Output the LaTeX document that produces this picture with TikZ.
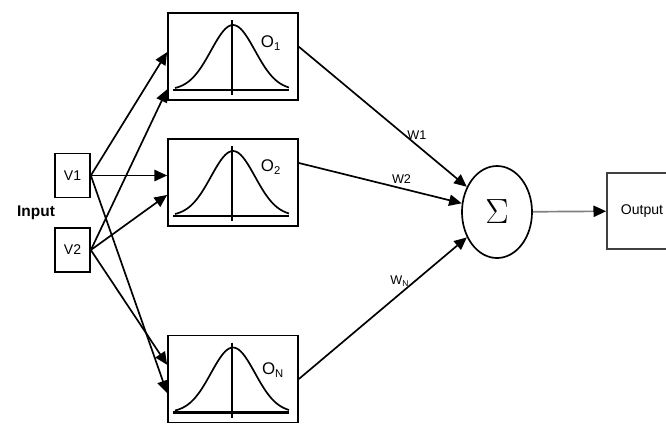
\documentclass[tikz,border=0pt]{standalone}
\usepackage{fontspec}
\setmainfont{Liberation Sans}
\usetikzlibrary{arrows.meta, shapes.geometric, calc, positioning}

\begin{document}
\begin{tikzpicture}[x=0.025cm, y=-0.025cm, line width=1.2pt,
  >={Triangle[length=9pt,width=8pt]},
  unit/.style={draw, minimum width=3.25cm, minimum height=2.175cm, inner sep=0pt},
  inbox/.style={draw, minimum width=0.875cm, minimum height=1.1cm, inner sep=0pt, font=\fontsize{10}{12}\selectfont},
  olabel/.style={font=\fontsize{12}{14}\selectfont, inner sep=0pt},
  wlabel/.style={font=\fontsize{9}{11}\selectfont, inner sep=1pt}]

\useasboundingbox (0,0) rectangle (666,424);

% Inputs
\node[inbox] (v1) at (72.5,175.5) {V1};
\node[inbox] (v2) at (72.5,250) {V2};
\node[font=\fontsize{11}{13}\selectfont\bfseries] (inp) at (36,213) {Input};

% Hidden units
\node[unit] (b1) at (233,56.5) {};
\node[unit] (b2) at (233,182.5) {};
\node[unit] (bn) at (233,379) {};

% Gaussian inside each unit
\foreach \b in {b1,b2,bn}{
  \begin{scope}[shift={(\b.center)}]
    \draw[line width=1.6pt] (-60,33.5) -- (56,33.5);
    \draw (-1,-36.5) -- (-1,38.5);
    \draw[domain=-58:56, samples=60, smooth] plot (\x,{33.5-65*exp(-((\x)*(\x))/968)});
  \end{scope}
}

% Unit outputs
\node[olabel] (o1) at (271,43) {O\textsubscript{1}};
\node[olabel] (o2) at (271,167) {O\textsubscript{2}};
\node[olabel] (on) at (273,370) {O\textsubscript{N}};

% Summation
\node[draw, ellipse, minimum width=1.75cm, minimum height=2.3cm, inner sep=0pt] (sig) at (497,212)
  {\fontsize{32}{32}\selectfont$\Sigma$};

% Output
\node[draw=black!75, minimum width=1.75cm, minimum height=1.9cm, inner sep=0pt,
  font=\fontsize{10}{12}\selectfont] (out) at (642,211) {Output};

% Input to units
\draw[->] (v1.east) -- ($(b1.north west)!0.45!(b1.south west)$);
\draw[->] (v1.east) -- (v1.east -| b2.west);
\draw[->] (v1.east) -- ($(bn.north west)!0.66!(bn.south west)$);
\draw[->] (v2.east) -- ($(b1.north west)!0.87!(b1.south west)$);
\draw[->] (v2.east) -- ($(b2.north west)!0.64!(b2.south west)$);
\draw[->] (v2.east) -- ($(bn.north west)!0.34!(bn.south west)$);

% Units to summation
\draw[->] ($(b1.north east)!0.39!(b1.south east)$) -- (sig)
  node[wlabel, pos=0.7, above right=2pt and -8pt] (w1) {W1};
\draw[->] ($(b2.north east)!0.28!(b2.south east)$) -- (sig)
  node[wlabel, pos=0.63, above=2pt] (w2) {W2};
\draw[->] (bn.east) -- (sig)
  node[wlabel, pos=0.62, above left=2pt and -6pt] (wn) {W\textsubscript{N}};

% Summation to output
\draw[gray, -{Triangle[length=9pt,width=8pt,black]}] (sig) -- (out);

\end{tikzpicture}
\end{document}
